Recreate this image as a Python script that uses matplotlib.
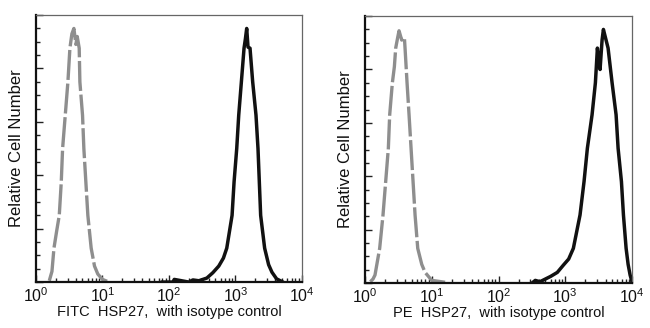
import numpy as np
import matplotlib
matplotlib.use("Agg")
import matplotlib.pyplot as plt
from matplotlib.ticker import LogLocator, FixedLocator, MultipleLocator, FuncFormatter

plt.rcParams['font.family'] = ['Liberation Sans', 'DejaVu Sans']
plt.rcParams['mathtext.fontset'] = 'custom'
plt.rcParams['mathtext.rm'] = 'Liberation Sans'

# histogram outlines: log10 of channel, relative count (0-100)
fitc_iso_log = [0.20, 0.24, 0.27, 0.31, 0.35, 0.38, 0.40, 0.44, 0.48, 0.51, 0.54, 0.57,
                0.60, 0.62, 0.65, 0.66, 0.70, 0.72, 0.75, 0.78, 0.83, 0.88, 0.93, 1.00, 1.07]
fitc_iso_cnt = [0.5, 4, 12.7, 19, 25, 37.5, 50, 62.5, 75, 87.6, 93, 95,
                89, 92, 87.6, 75, 62.5, 50, 37.5, 25, 12.7, 6, 3, 1, 0.3]

fitc_hsp_log = [1.90, 2.06, 2.08, 2.30, 2.36, 2.45, 2.57, 2.66, 2.75, 2.82, 2.87, 2.95,
                2.98, 3.02, 3.05, 3.09, 3.13, 3.15, 3.17, 3.19, 3.22, 3.26, 3.31, 3.34,
                3.36, 3.38, 3.44, 3.50, 3.55, 3.62, 3.70]
fitc_hsp_cnt = [0, 0, 1, 0, 0.8, 0.5, 1.5, 3.5, 6, 9, 12.7, 25,
                37.5, 50, 62.5, 75, 87.6, 91, 95, 88, 87.6, 75, 62.5, 50,
                37.5, 25, 12.7, 6.5, 3.7, 1.2, 0.2]

pe_iso_log = [0.08, 0.12, 0.15, 0.22, 0.27, 0.31, 0.35, 0.37, 0.41, 0.44, 0.46, 0.49,
              0.51, 0.55, 0.59, 0.60, 0.63, 0.66, 0.69, 0.72, 0.75, 0.79, 0.85, 0.90,
              1.00, 1.20]
pe_iso_cnt = [0.5, 1.5, 3, 13, 25.5, 38, 50.5, 63, 75, 81, 88, 92,
              94.5, 91, 92, 88, 75, 63, 50.5, 38, 25.5, 13, 7, 4,
              1, 0.3]

pe_hsp_log = [2.50, 2.55, 2.62, 2.70, 2.78, 2.88, 2.97, 3.05, 3.12, 3.22, 3.28, 3.33,
              3.40, 3.45, 3.48, 3.50, 3.52, 3.55, 3.57, 3.60, 3.64, 3.70, 3.76, 3.79,
              3.84, 3.87, 3.91, 3.94, 3.97, 4.00]
pe_hsp_cnt = [0, 1, 0.5, 1.5, 2.5, 4, 6.7, 9, 13, 25.5, 38, 50.5,
              63, 75, 88, 84, 80, 91, 95, 92, 88, 75, 63, 50.5,
              38, 25.5, 13, 7, 3, 0.3]

panels = [
    (fitc_iso_log, fitc_iso_cnt, fitc_hsp_log, fitc_hsp_cnt,
     "FITC  HSP27,  with isotype control", [0.0554, 0.140, 0.409, 0.814]),
    (pe_iso_log, pe_iso_cnt, pe_hsp_log, pe_hsp_cnt,
     "PE  HSP27,  with isotype control", [0.5615, 0.137, 0.411, 0.814]),
]

fig = plt.figure(figsize=(6.5, 3.28), dpi=100)

for iso_x, iso_y, hsp_x, hsp_y, xlab, pos in panels:
    ax = fig.add_axes(pos)
    ax.plot(10 ** np.array(iso_x), iso_y, color="#8e8e8e", lw=2.4,
            dashes=(9, 1.1), solid_capstyle="butt")
    ax.plot(10 ** np.array(hsp_x), hsp_y, color="#111111", lw=2.5)
    ax.set_xscale("log")
    ax.set_xlim(1, 1e4)
    ax.set_ylim(0, 100)

    ax.xaxis.set_major_locator(FixedLocator([1, 10, 100, 1000, 10000]))
    ax.xaxis.set_minor_locator(LogLocator(base=10, subs=np.arange(2, 10), numticks=20))
    ax.xaxis.set_major_formatter(FuncFormatter(lambda v, p: r"$10^{%d}$" % round(np.log10(v))))
    ax.yaxis.set_major_locator(MultipleLocator(20))
    ax.yaxis.set_minor_locator(MultipleLocator(5))
    ax.set_yticklabels([])
    ax.tick_params(which="both", direction="in", width=1.0, colors="#222222")
    ax.tick_params(which="major", length=5)
    ax.tick_params(which="minor", length=3)
    ax.tick_params(axis="x", labelsize=11.5, pad=3, labelcolor="#111111")

    for s in ("left", "bottom"):
        ax.spines[s].set_linewidth(1.6)
        ax.spines[s].set_color("#111111")
    for s in ("top", "right"):
        ax.spines[s].set_linewidth(0.9)
        ax.spines[s].set_color("#666666")

    ax.set_xlabel(xlab, fontsize=10.5, labelpad=0, color="#111111")
    ax.set_ylabel("Relative Cell Number", fontsize=12, labelpad=5, color="#111111")

fig.savefig("out.png", dpi=100, facecolor="white")
